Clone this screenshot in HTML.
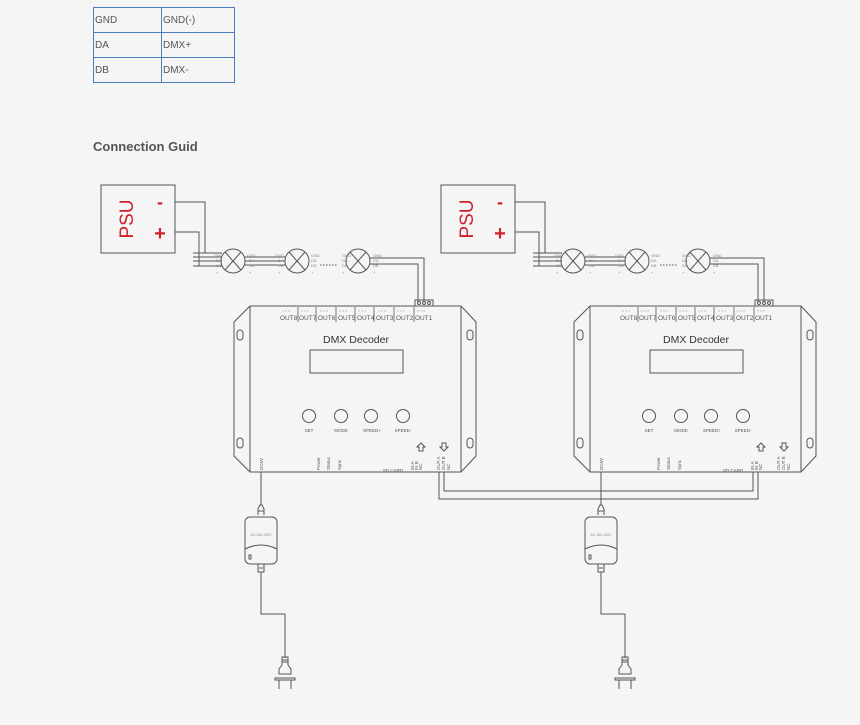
<!DOCTYPE html>
<html><head><meta charset="utf-8"><style>
html,body{margin:0;padding:0;background:#f5f5f5;width:860px;height:725px;overflow:hidden;font-family:"Liberation Sans",sans-serif}
table{position:absolute;left:93px;top:7px;border-collapse:collapse;font-size:10px;color:#555}
td{border:1px solid #4a7ec0;height:24px;padding:0 0 0 1px;vertical-align:middle}
h3{position:absolute;left:93px;top:139px;margin:0;font-size:13px;font-weight:bold;color:#555}
svg{position:absolute;left:0;top:0}
</style></head><body>
<table><tr><td style="width:66px">GND</td><td style="width:71px">GND(-)</td></tr><tr><td>DA</td><td>DMX+</td></tr><tr><td>DB</td><td>DMX-</td></tr></table>
<h3>Connection Guid</h3>
<svg width="860" height="725" viewBox="0 0 860 725" font-family="Liberation Sans, sans-serif">
<defs></defs>
<g id="u1" fill="none" stroke="#555" stroke-width="1">
<rect x="101" y="185" width="74" height="68" fill="#f5f5f5"/>
<text x="133" y="219" transform="rotate(-90 133 219)" text-anchor="middle" fill="#d0202a" stroke="none" font-size="19">PSU</text>
<text x="160" y="208" fill="#d0202a" stroke="none" font-size="18" font-weight="bold" text-anchor="middle">-</text>
<text x="160" y="240" fill="#d0202a" stroke="none" font-size="20" font-weight="bold" text-anchor="middle">+</text>
<polyline points="175,202 205,202 205,253"/>
<polyline points="175,232 199,232 199,266"/>
<line x1="193" y1="253" x2="222" y2="253"/><line x1="193" y1="257" x2="222" y2="257"/><line x1="193" y1="261" x2="222" y2="261"/><line x1="193" y1="266" x2="222" y2="266"/>
<line x1="245" y1="257" x2="285" y2="257"/><line x1="245" y1="261" x2="285" y2="261"/><line x1="245" y1="265" x2="285" y2="265"/>
<circle cx="233" cy="261" r="12"/><line x1="225" y1="252" x2="241" y2="270"/><line x1="241" y1="252" x2="225" y2="270"/>
<circle cx="297" cy="261" r="12"/><line x1="289" y1="252" x2="305" y2="270"/><line x1="305" y1="252" x2="289" y2="270"/>
<circle cx="358" cy="261" r="12"/><line x1="350" y1="252" x2="366" y2="270"/><line x1="366" y1="252" x2="350" y2="270"/>
<line x1="320" y1="265" x2="338" y2="265" stroke-dasharray="1.5 1.5"/>
<polyline points="370,258 424,258 424,302"/><polyline points="370,264 418,264 418,302"/>
<g fill="#888" stroke="none" font-size="4"><text x="214" y="257">GND</text><text x="216" y="262">DA</text><text x="216" y="267">DB</text><text x="216" y="274">+</text>
<text x="247" y="257">GND</text><text x="249" y="262">DA</text><text x="249" y="267">DB</text><text x="249" y="274">+</text>
<text x="275" y="257">GND</text><text x="278" y="262">DA</text><text x="278" y="267">DB</text><text x="278" y="274">+</text>
<text x="311" y="257">GND</text><text x="311" y="262">DA</text><text x="311" y="267">DB</text><text x="311" y="274">+</text>
<text x="342" y="257">GND</text><text x="342" y="262">DA</text><text x="342" y="267">DB</text><text x="342" y="274">+</text>
<text x="373" y="257">GND</text><text x="373" y="262">DA</text><text x="373" y="267">DB</text><text x="373" y="274">+</text></g>
<rect x="415" y="300" width="18" height="6"/><circle cx="419" cy="303" r="1.5"/><circle cx="424" cy="303" r="1.5"/><circle cx="429" cy="303" r="1.5"/>
<polygon points="250,306 461,306 476,322 476,456 461,472 250,472 234,456 234,322" fill="#f5f5f5"/>
<line x1="250" y1="306" x2="250" y2="472"/><line x1="461" y1="306" x2="461" y2="472"/>
<rect x="237" y="330" width="6" height="10" rx="3"/><rect x="237" y="438" width="6" height="10" rx="3"/>
<rect x="467" y="330" width="6" height="10" rx="3"/><rect x="467" y="438" width="6" height="10" rx="3"/>
<g stroke="#777"><line x1="298" y1="307" x2="298" y2="322"/><line x1="316" y1="307" x2="316" y2="322"/><line x1="336" y1="307" x2="336" y2="322"/><line x1="355" y1="307" x2="355" y2="322"/><line x1="374" y1="307" x2="374" y2="322"/><line x1="394" y1="307" x2="394" y2="322"/><line x1="414" y1="307" x2="414" y2="322"/></g>
<g fill="#555" stroke="none" font-size="6.5"><text x="280" y="320">OUT8</text><text x="299" y="320">OUT7</text><text x="318" y="320">OUT6</text><text x="338" y="320">OUT5</text><text x="357" y="320">OUT4</text><text x="376" y="320">OUT3</text><text x="396" y="320">OUT2</text><text x="415" y="320">OUT1</text></g>
<g fill="#999" stroke="none" font-size="3.5"><text x="282" y="312">≡ ≡ ≡</text><text x="301" y="312">≡ ≡ ≡</text><text x="320" y="312">≡ ≡ ≡</text><text x="339" y="312">≡ ≡ ≡</text><text x="358" y="312">≡ ≡ ≡</text><text x="378" y="312">≡ ≡ ≡</text><text x="397" y="312">≡ ≡ ≡</text><text x="417" y="312">≡ ≡ ≡</text></g>
<text x="356" y="343" text-anchor="middle" fill="#333" stroke="none" font-size="10.5">DMX Decoder</text>
<rect x="310" y="350" width="93" height="23"/>
<circle cx="309" cy="416" r="6.5"/><circle cx="341" cy="416" r="6.5"/><circle cx="371" cy="416" r="6.5"/><circle cx="403" cy="416" r="6.5"/>
<g fill="#555" stroke="none" font-size="4.5" text-anchor="middle"><text x="309" y="432">SET</text><text x="341" y="432">MODE</text><text x="372" y="432">SPEED+</text><text x="403" y="432">SPEED-</text><text x="393" y="472">SD CARD</text></g>
<path d="M419,451 v-4 h-2 l4,-4 l4,4 h-2 v4 z"/><path d="M442,443 v4 h-2 l4,4 l4,-4 h-2 v-4 z"/>
<g fill="#555" stroke="none" font-size="4.5"><text transform="translate(263,470) rotate(-90)">DC5V</text><text transform="translate(320,470) rotate(-90)">Power</text><text transform="translate(330,470) rotate(-90)">Status</text><text transform="translate(341,470) rotate(-90)">Sync</text>
<text transform="translate(414,470) rotate(-90)">IN A</text><text transform="translate(418,470) rotate(-90)">IN B</text><text transform="translate(422,470) rotate(-90)">NC</text>
<text transform="translate(440,470) rotate(-90)">OUT A</text><text transform="translate(445,470) rotate(-90)">OUT B</text><text transform="translate(450,470) rotate(-90)">NC</text></g>
<line x1="261" y1="472" x2="261" y2="505"/>
<path d="M258,515 v-6 l2,-4 h2 l2,4 v6 M258,511 h6"/>
<rect x="245" y="517" width="32" height="47" rx="5" fill="#f5f5f5"/>
<path d="M245,549 q16,-8 32,0"/>
<text x="261" y="536" text-anchor="middle" fill="#888" stroke="none" font-size="3.5">AC 100-240V</text>
<rect x="249" y="555" width="2" height="4"/>
<path d="M258,564 v8 h6 v-8 M259,568 h4"/>
<polyline points="261,572 261,614 285,614 285,658"/>
<path d="M282,657 h6 v8 l3,4 v5 h-12 v-5 l3,-4 z M282,660 h6 M282,662 h6"/>
<rect x="275" y="678" width="20" height="2"/>
<line x1="279" y1="680" x2="279" y2="689"/><line x1="291" y1="680" x2="291" y2="689"/>
</g>
<g transform="translate(340,0)" fill="none" stroke="#555" stroke-width="1">
<rect x="101" y="185" width="74" height="68" fill="#f5f5f5"/>
<text x="133" y="219" transform="rotate(-90 133 219)" text-anchor="middle" fill="#d0202a" stroke="none" font-size="19">PSU</text>
<text x="160" y="208" fill="#d0202a" stroke="none" font-size="18" font-weight="bold" text-anchor="middle">-</text>
<text x="160" y="240" fill="#d0202a" stroke="none" font-size="20" font-weight="bold" text-anchor="middle">+</text>
<polyline points="175,202 205,202 205,253"/>
<polyline points="175,232 199,232 199,266"/>
<line x1="193" y1="253" x2="222" y2="253"/><line x1="193" y1="257" x2="222" y2="257"/><line x1="193" y1="261" x2="222" y2="261"/><line x1="193" y1="266" x2="222" y2="266"/>
<line x1="245" y1="257" x2="285" y2="257"/><line x1="245" y1="261" x2="285" y2="261"/><line x1="245" y1="265" x2="285" y2="265"/>
<circle cx="233" cy="261" r="12"/><line x1="225" y1="252" x2="241" y2="270"/><line x1="241" y1="252" x2="225" y2="270"/>
<circle cx="297" cy="261" r="12"/><line x1="289" y1="252" x2="305" y2="270"/><line x1="305" y1="252" x2="289" y2="270"/>
<circle cx="358" cy="261" r="12"/><line x1="350" y1="252" x2="366" y2="270"/><line x1="366" y1="252" x2="350" y2="270"/>
<line x1="320" y1="265" x2="338" y2="265" stroke-dasharray="1.5 1.5"/>
<polyline points="370,258 424,258 424,302"/><polyline points="370,264 418,264 418,302"/>
<g fill="#888" stroke="none" font-size="4"><text x="214" y="257">GND</text><text x="216" y="262">DA</text><text x="216" y="267">DB</text><text x="216" y="274">+</text>
<text x="247" y="257">GND</text><text x="249" y="262">DA</text><text x="249" y="267">DB</text><text x="249" y="274">+</text>
<text x="275" y="257">GND</text><text x="278" y="262">DA</text><text x="278" y="267">DB</text><text x="278" y="274">+</text>
<text x="311" y="257">GND</text><text x="311" y="262">DA</text><text x="311" y="267">DB</text><text x="311" y="274">+</text>
<text x="342" y="257">GND</text><text x="342" y="262">DA</text><text x="342" y="267">DB</text><text x="342" y="274">+</text>
<text x="373" y="257">GND</text><text x="373" y="262">DA</text><text x="373" y="267">DB</text><text x="373" y="274">+</text></g>
<rect x="415" y="300" width="18" height="6"/><circle cx="419" cy="303" r="1.5"/><circle cx="424" cy="303" r="1.5"/><circle cx="429" cy="303" r="1.5"/>
<polygon points="250,306 461,306 476,322 476,456 461,472 250,472 234,456 234,322" fill="#f5f5f5"/>
<line x1="250" y1="306" x2="250" y2="472"/><line x1="461" y1="306" x2="461" y2="472"/>
<rect x="237" y="330" width="6" height="10" rx="3"/><rect x="237" y="438" width="6" height="10" rx="3"/>
<rect x="467" y="330" width="6" height="10" rx="3"/><rect x="467" y="438" width="6" height="10" rx="3"/>
<g stroke="#777"><line x1="298" y1="307" x2="298" y2="322"/><line x1="316" y1="307" x2="316" y2="322"/><line x1="336" y1="307" x2="336" y2="322"/><line x1="355" y1="307" x2="355" y2="322"/><line x1="374" y1="307" x2="374" y2="322"/><line x1="394" y1="307" x2="394" y2="322"/><line x1="414" y1="307" x2="414" y2="322"/></g>
<g fill="#555" stroke="none" font-size="6.5"><text x="280" y="320">OUT8</text><text x="299" y="320">OUT7</text><text x="318" y="320">OUT6</text><text x="338" y="320">OUT5</text><text x="357" y="320">OUT4</text><text x="376" y="320">OUT3</text><text x="396" y="320">OUT2</text><text x="415" y="320">OUT1</text></g>
<g fill="#999" stroke="none" font-size="3.5"><text x="282" y="312">≡ ≡ ≡</text><text x="301" y="312">≡ ≡ ≡</text><text x="320" y="312">≡ ≡ ≡</text><text x="339" y="312">≡ ≡ ≡</text><text x="358" y="312">≡ ≡ ≡</text><text x="378" y="312">≡ ≡ ≡</text><text x="397" y="312">≡ ≡ ≡</text><text x="417" y="312">≡ ≡ ≡</text></g>
<text x="356" y="343" text-anchor="middle" fill="#333" stroke="none" font-size="10.5">DMX Decoder</text>
<rect x="310" y="350" width="93" height="23"/>
<circle cx="309" cy="416" r="6.5"/><circle cx="341" cy="416" r="6.5"/><circle cx="371" cy="416" r="6.5"/><circle cx="403" cy="416" r="6.5"/>
<g fill="#555" stroke="none" font-size="4.5" text-anchor="middle"><text x="309" y="432">SET</text><text x="341" y="432">MODE</text><text x="372" y="432">SPEED+</text><text x="403" y="432">SPEED-</text><text x="393" y="472">SD CARD</text></g>
<path d="M419,451 v-4 h-2 l4,-4 l4,4 h-2 v4 z"/><path d="M442,443 v4 h-2 l4,4 l4,-4 h-2 v-4 z"/>
<g fill="#555" stroke="none" font-size="4.5"><text transform="translate(263,470) rotate(-90)">DC5V</text><text transform="translate(320,470) rotate(-90)">Power</text><text transform="translate(330,470) rotate(-90)">Status</text><text transform="translate(341,470) rotate(-90)">Sync</text>
<text transform="translate(414,470) rotate(-90)">IN A</text><text transform="translate(418,470) rotate(-90)">IN B</text><text transform="translate(422,470) rotate(-90)">NC</text>
<text transform="translate(440,470) rotate(-90)">OUT A</text><text transform="translate(445,470) rotate(-90)">OUT B</text><text transform="translate(450,470) rotate(-90)">NC</text></g>
<line x1="261" y1="472" x2="261" y2="505"/>
<path d="M258,515 v-6 l2,-4 h2 l2,4 v6 M258,511 h6"/>
<rect x="245" y="517" width="32" height="47" rx="5" fill="#f5f5f5"/>
<path d="M245,549 q16,-8 32,0"/>
<text x="261" y="536" text-anchor="middle" fill="#888" stroke="none" font-size="3.5">AC 100-240V</text>
<rect x="249" y="555" width="2" height="4"/>
<path d="M258,564 v8 h6 v-8 M259,568 h4"/>
<polyline points="261,572 261,614 285,614 285,658"/>
<path d="M282,657 h6 v8 l3,4 v5 h-12 v-5 l3,-4 z M282,660 h6 M282,662 h6"/>
<rect x="275" y="678" width="20" height="2"/>
<line x1="279" y1="680" x2="279" y2="689"/><line x1="291" y1="680" x2="291" y2="689"/>
</g>
<g fill="none" stroke="#555">
<polyline points="439,472 439,499 758,499 758,472"/>
<polyline points="444,472 444,491 753,491 753,472"/>
</g>
</svg>
</body></html>
